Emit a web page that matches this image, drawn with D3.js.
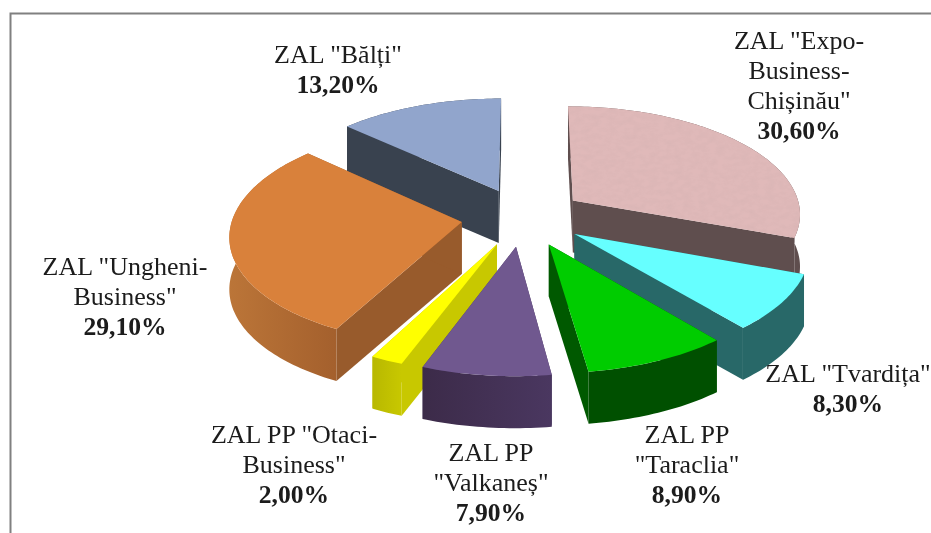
<!DOCTYPE html>
<html>
<head>
<meta charset="utf-8">
<script src="https://cdn.jsdelivr.net/npm/d3@7"></script>
<style>
html, body { margin: 0; padding: 0; background: #fff; }
text { font-family: "Liberation Serif", serif; font-size: 26px; fill: #1a1a1a; }
</style>
</head>
<body>
<div id="chart"></div>
<script>
// data, clockwise from 12 o'clock
let categories = ['ZAL "Expo-Business-Chișinău"', 'ZAL "Tvardița"', 'ZAL PP "Taraclia"', 'ZAL PP "Valkaneș"', 'ZAL PP "Otaci-Business"', 'ZAL "Ungheni-Business"', 'ZAL "Bălți"'];
let values = [30.6, 8.3, 8.9, 7.9, 2.0, 29.1, 13.2];
let valueLabels = ["30,60%", "8,30%", "8,90%", "7,90%", "2,00%", "29,10%", "13,20%"];
let labelLines = [['ZAL "Expo-', "Business-", 'Chișinău"'], ['ZAL "Tvardița"'], ["ZAL PP", '"Taraclia"'], ["ZAL PP", '"Valkaneș"'], ['ZAL PP "Otaci-', 'Business"'], ['ZAL "Ungheni-', 'Business"'], ['ZAL "Bălți"']];

// styles and placement
let topColors = ["#e0b9b9", "#66ffff", "#00cc00", "#70588f", "#ffff00", "#d9813b", "#91a5cc"];
let sideColors = ["#5f4e4e", "#286868", "#005900", "#46345c", "#c8c800", "#985b2c", "#39424f"];
let rimLeft = ["#5f4e4e", "#286868", "#005000", "#4a3760", "#c8c800", "#bb7538", "#39424f"];
let rimRight = ["#5f4e4e", "#286868", "#005000", "#3c2b49", "#b8b800", "#a4602d", "#39424f"];
let labelX = [799, 848, 687, 491, 294, 125, 338];
let labelY = [49, 382, 443, 461, 443, 275, 63];
let drawOrder = [6, 0, 5, 1, 4, 2, 3];

let width = 931, height = 533;
let cx = 523, cy = 217, rx = 229, ry = 108, depth = 52, tilt = 0.11, explode = 0.27;

let svg = d3.select("#chart").append("svg")
    .attr("width", width)
    .attr("height", height)
    .style("display", "block");

// frame, open at the bottom and right
svg.append("path")
    .attr("d", "M10.5," + height + "V13.5H" + width)
    .attr("fill", "none")
    .attr("stroke", "#808080")
    .attr("stroke-width", 2);

let defs = svg.append("defs");

// paper like grain of the first slice
let grain = defs.append("filter").attr("id", "grain")
    .attr("x", 0).attr("y", 0).attr("width", 1).attr("height", 1);
grain.append("feTurbulence")
    .attr("type", "fractalNoise").attr("baseFrequency", "0.12 0.2")
    .attr("numOctaves", 3).attr("seed", 4).attr("result", "noise");
grain.append("feColorMatrix").attr("in", "noise").attr("type", "matrix")
    .attr("values", "0 0 0 0 0.62  0 0 0 0 0.42  0 0 0 0 0.42  0.6 0 0 0 -0.2")
    .attr("result", "tint");
grain.append("feComposite").attr("in", "tint").attr("in2", "SourceAlpha").attr("operator", "in").attr("result", "clipped");
grain.append("feMerge").selectAll("feMergeNode")
    .data(["SourceGraphic", "clipped"]).enter().append("feMergeNode").attr("in", d => d);

// the reference is a slightly soft scan
defs.append("filter").attr("id", "soft")
    .append("feGaussianBlur").attr("stdDeviation", 0.35);

let pie = d3.pie().sort(null).value(d => d);
let slices = pie(values);

// disc coordinates to screen, nearer points get bigger
function project(x, y, lift) {
    let w = 1 - tilt * y;
    return [cx + rx * x / w, cy + ry * y / w + lift];
}

let line = d3.line();

function drawSlice(i) {
    let s = slices[i];
    let mid = (s.startAngle + s.endAngle) / 2;
    let ox = explode * Math.sin(mid), oy = -explode * Math.cos(mid);
    let angles = d3.range(s.startAngle, s.endAngle, 0.02).concat([s.endAngle]);
    let rim = a => [ox + Math.sin(a), oy - Math.cos(a)];

    let topArc = angles.map(a => project(rim(a)[0], rim(a)[1], 0));
    let lowArc = angles.map(a => project(rim(a)[0], rim(a)[1], depth));
    let apex = project(ox, oy, 0), apexLow = project(ox, oy, depth);

    let grad = defs.append("linearGradient").attr("id", "rim" + i);
    grad.append("stop").attr("offset", "0%").attr("stop-color", i < 5 ? rimRight[i] : rimLeft[i]);
    grad.append("stop").attr("offset", "100%").attr("stop-color", i < 5 ? rimLeft[i] : rimRight[i]);

    let g = svg.append("g").attr("class", "slice");
    // radial walls
    [[topArc[0], lowArc[0]], [topArc[topArc.length - 1], lowArc[lowArc.length - 1]]].forEach(e => {
        g.append("path")
            .attr("d", line([apex, e[0], e[1], apexLow]) + "Z")
            .attr("fill", sideColors[i]);
    });
    // outer wall
    g.append("path")
        .attr("d", line(topArc.concat(lowArc.slice().reverse())) + "Z")
        .attr("fill", "url(#rim" + i + ")");
    // top face
    g.append("path")
        .attr("d", line([apex].concat(topArc)) + "Z")
        .attr("fill", topColors[i])
        .attr("filter", i === 0 ? "url(#grain)" : null);
}

drawOrder.forEach(drawSlice);

// labels
let labels = svg.append("g").attr("filter", "url(#soft)");
categories.forEach((c, i) => {
    let t = labels.append("text").attr("text-anchor", "middle");
    labelLines[i].forEach((l, j) => {
        t.append("tspan").attr("x", labelX[i]).attr("y", labelY[i] + j * 30).text(l);
    });
    t.append("tspan")
        .attr("x", labelX[i])
        .attr("y", labelY[i] + labelLines[i].length * 30)
        .attr("font-weight", "bold")
        .style("font-size", "25.6px")
        .text(valueLabels[i]);
});
</script>
</body>
</html>
